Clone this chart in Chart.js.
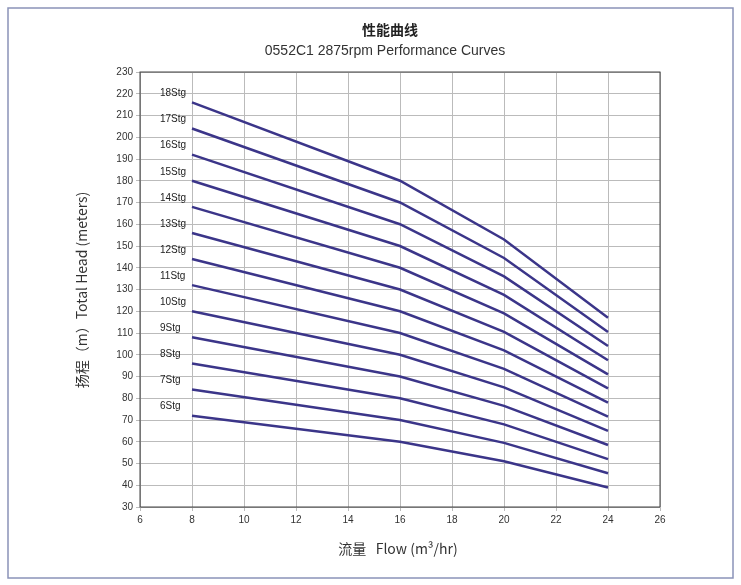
<!DOCTYPE html>
<html><head><meta charset="utf-8">
<script src="https://cdn.jsdelivr.net/npm/chart.js@4"></script>
<style>
body{margin:0;background:#fff}
#wrap{position:absolute;left:0;top:0;width:741px;height:585px}
</style></head>
<body><div id="wrap"><canvas id="c"></canvas></div>
<script>
// flow points (m3/hr)
var flows = [8, 16, 20, 24];
var stages = ['6Stg','7Stg','8Stg','9Stg','10Stg','11Stg','12Stg','13Stg','14Stg','15Stg','16Stg','17Stg','18Stg'];
// head (m) per stage at each flow
var heads = [
 [72, 60, 51, 39],
 [84, 70, 59.5, 45.5],
 [96, 80, 68, 52],
 [108, 90, 76.5, 58.5],
 [120, 100, 85, 65],
 [132, 110, 93.5, 71.5],
 [144, 120, 102, 78],
 [156, 130, 110.5, 84.5],
 [168, 140, 119, 91],
 [180, 150, 127.5, 97.5],
 [192, 160, 136, 104],
 [204, 170, 144.5, 110.5],
 [216, 180, 153, 117]
];
var lineColor = '#3b3589';

var datasets = stages.map(function(s, i){
 return {
  label: s,
  data: flows.map(function(f, j){ return {x: f, y: heads[i][j]}; }),
  borderColor: lineColor, borderWidth: 2.5, pointRadius: 0, tension: 0, fill: false
 };
});

// stage labels + titles + page frame
var extras = {
 id: 'extras',
 afterDraw: function(chart){
  var c = chart.ctx, xs = chart.scales.x, ys = chart.scales.y;
  c.save();
  c.fillStyle = '#222';
  c.font = '10px "Liberation Sans", Arial';
  c.textAlign = 'left'; c.textBaseline = 'bottom';
  chart.data.datasets.forEach(function(d){
   c.fillText(d.label, xs.getPixelForValue(d.data[0].x) - 32, ys.getPixelForValue(d.data[0].y) - 4);
  });
  c.textAlign = 'center'; c.textBaseline = 'middle';
  c.font = 'bold 14px "Noto Sans CJK SC"';
  c.fillText('性能曲线', 390, 30);
  c.font = '14px "Liberation Sans", Arial';
  c.fillStyle = '#333';
  c.fillText('0552C1 2875rpm Performance Curves', 385, 51);
  c.font = '14px "Noto Sans CJK SC", "Liberation Sans"';
  c.fillText('流量   Flow (m³/hr)', 398, 549);
  c.translate(82, 290); c.rotate(-Math.PI/2);
  c.fillText('扬程（m）Total Head (meters)', 0, 0);
  c.restore();
  c.save();
  c.strokeStyle = '#8a93b8'; c.lineWidth = 1.5;
  c.strokeRect(8, 8, 725, 570);
  c.strokeStyle = '#444'; c.lineWidth = 1;
  c.strokeRect(chart.chartArea.left, chart.chartArea.top, chart.chartArea.width, chart.chartArea.height);
  c.restore();
 }
};

new Chart(document.getElementById('c'), {
 type: 'line',
 data: {datasets: datasets},
 plugins: [extras],
 options: {
  responsive: true, maintainAspectRatio: false, animation: false,
  layout: {padding: {left: 20, right: 81, top: 72, bottom: 18}},
  plugins: {legend: {display: false}, tooltip: {enabled: false}},
  scales: {
   x: {type: 'linear', min: 6, max: 26,
    ticks: {stepSize: 2, color: '#333', font: {size: 10}},
    grid: {color: '#bbb', tickLength: 4},
    afterFit: function(s){ s.height = 60; }},
   y: {min: 30, max: 230,
    ticks: {stepSize: 10, color: '#333', font: {size: 10}},
    grid: {color: '#bbb', tickLength: 4},
    afterFit: function(s){ s.width = 120; }}
  }
 }
});
</script></body></html>
